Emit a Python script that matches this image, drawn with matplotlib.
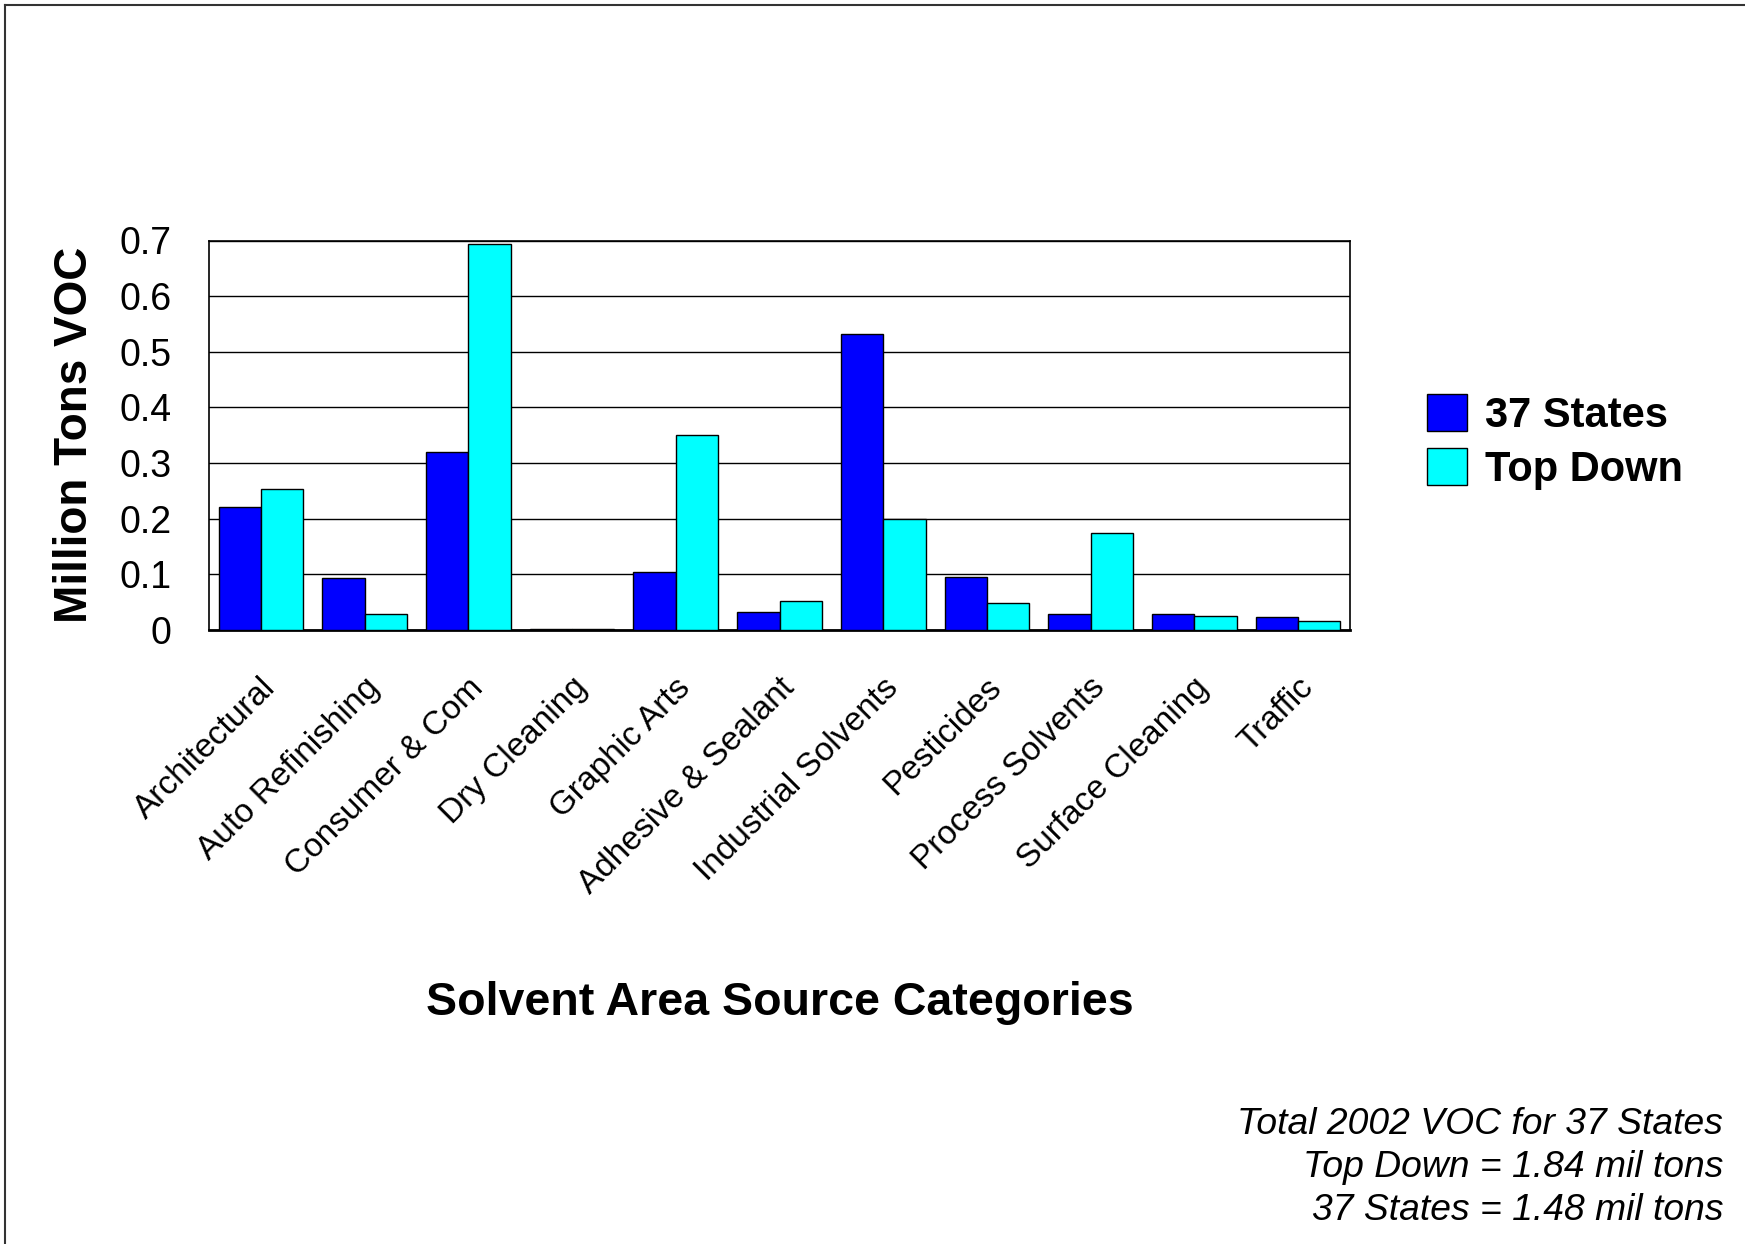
import numpy as np
import matplotlib
matplotlib.use("Agg")
import matplotlib.pyplot as plt
from matplotlib.lines import Line2D
from matplotlib.transforms import ScaledTranslation

plt.rcParams["font.family"] = ["Liberation Sans", "DejaVu Sans"]

# data
categories = [
    "Architectural",
    "Auto Refinishing",
    "Consumer & Com",
    "Dry Cleaning",
    "Graphic Arts",
    "Adhesive & Sealant",
    "Industrial Solvents",
    "Pesticides",
    "Process Solvents",
    "Surface Cleaning",
    "Traffic",
]

states37 = [0.221, 0.094, 0.320, 0.001, 0.105, 0.032, 0.532, 0.095, 0.028, 0.029, 0.024]
top_down = [0.254, 0.028, 0.693, 0.002, 0.351, 0.052, 0.200, 0.048, 0.175, 0.025, 0.016]

series_names = ["37 States", "Top Down"]
y_ticks = [0, 0.1, 0.2, 0.3, 0.4, 0.5, 0.6, 0.7]
y_tick_labels = ["0", "0.1", "0.2", "0.3", "0.4", "0.5", "0.6", "0.7"]

note_lines = [
    "Total 2002 VOC for 37 States",
    "Top Down = 1.84 mil tons",
    "37 States = 1.48 mil tons",
]

W, H = 1745, 1244
fig = plt.figure(figsize=(W / 100, H / 100), dpi=100)
fig.patch.set_facecolor("white")

ax = fig.add_axes([209 / W, 1 - 630 / H, (1350 - 209) / W, (630 - 240.5) / H])

x = np.arange(len(categories))
bar_w = 0.408

ax.bar(
    x - bar_w / 2,
    states37,
    width=bar_w,
    color="#0000FF",
    edgecolor="black",
    linewidth=1.0,
    label=series_names[0],
    zorder=3
)

ax.bar(
    x + bar_w / 2,
    top_down,
    width=bar_w,
    color="#00FFFF",
    edgecolor="black",
    linewidth=1.0,
    label=series_names[1],
    zorder=3
)

ax.set_xlim(-0.5, len(categories) - 0.5)
ax.set_ylim(0, 0.7)

ax.set_yticks(y_ticks)
ax.set_yticklabels(y_tick_labels, fontsize=27)
ax.tick_params(axis="y", length=0, pad=27)
ax.set_xticks([])

ax.yaxis.grid(True, color="black", linewidth=1.0, zorder=0)
ax.set_axisbelow(True)

for side in ["top", "right", "left"]:
    ax.spines[side].set_linewidth(1.2)
ax.spines["bottom"].set_linewidth(2.0)

# category labels, rotated like the original
label_trans = ax.get_xaxis_transform() + ScaledTranslation(
    -1 / 100, -42 / 100, fig.dpi_scale_trans
)
for i, name in enumerate(categories):
    ax.text(
        x[i],
        0,
        name,
        transform=label_trans,
        rotation=45,
        rotation_mode="anchor",
        ha="right",
        va="top",
        fontsize=24
    )

fig.text(
    75 / W,
    1 - 434.5 / H,
    "Million Tons VOC",
    rotation=90,
    ha="center",
    va="center",
    fontsize=33,
    fontweight="bold"
)

fig.text(
    779.5 / W,
    1 - 1015 / H,
    "Solvent Area Source Categories",
    ha="center",
    va="baseline",
    fontsize=33.5,
    fontweight="bold"
)

fig.legend(
    loc="center left",
    bbox_to_anchor=(1406 / W, 1 - 442 / H),
    frameon=False,
    borderpad=0,
    handlelength=0.97,
    handleheight=0.97,
    handletextpad=0.42,
    labelspacing=0.3,
    prop={"size": 30, "weight": "bold"}
)

baselines = [1134, 1177, 1220]
for line, yb in zip(note_lines, baselines):
    fig.text(
        1723 / W,
        1 - yb / H,
        line,
        ha="right",
        va="baseline",
        fontsize=26.8,
        style="italic"
    )

# outer frame (top and left edges visible)
fig.add_artist(Line2D([5 / W, 1], [1 - 5 / H, 1 - 5 / H], color="#333333", linewidth=1.5))
fig.add_artist(Line2D([5 / W, 5 / W], [0, 1 - 5 / H], color="#333333", linewidth=1.5))

fig.savefig("out.png", dpi=100)
